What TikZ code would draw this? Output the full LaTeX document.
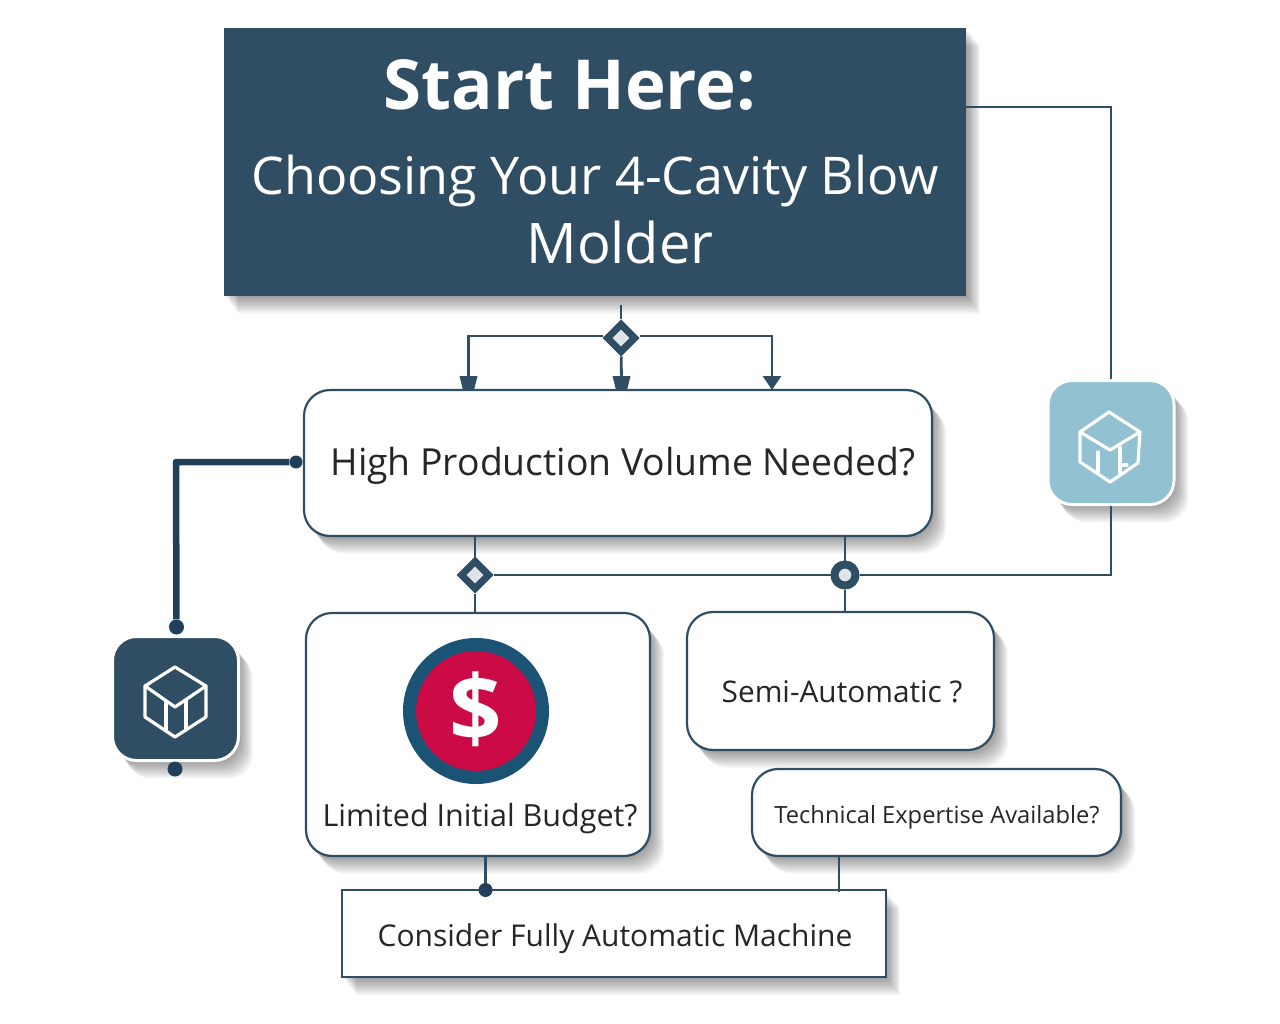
\documentclass[tikz,border=0pt]{standalone}
\usepackage{fontspec}
\setmainfont{Open Sans}
\usetikzlibrary{arrows.meta,shapes.geometric,shadows}
\definecolor{dg}{HTML}{2F4D63}
\definecolor{navy}{HTML}{1F3F5B}
\definecolor{sky}{HTML}{92C1D1}
\definecolor{crimson}{HTML}{CC0A45}
\definecolor{ring}{HTML}{1B5375}
\tikzset{
    shadelayer/.style = {general shadow={fill=black,
                    opacity=0.035,
                    shadow xshift=1.2*#1 pt,
                    shadow yshift=-1.5*#1 pt}},
    softshadow/.style = {shadelayer/.list={1,...,12}},
    flowbox/.style = {rectangle,
                    rounded corners=26pt,
                    fill=white,
                    draw=dg,
                    line width=2.2pt,
                    softshadow},
    plainbox/.style = {flowbox,
                    rounded corners=0pt},
    titlebox/.style = {rectangle,
                    fill=dg,
                    minimum width=742pt,
                    minimum height=268pt,
                    softshadow},
    iconbox/.style = {rectangle,
                    rounded corners=24pt,
                    draw=white,
                    line width=3pt,
                    minimum width=126pt,
                    minimum height=124pt,
                    softshadow},
    label/.style =  {text=black!85,
                    inner sep=0pt},
    junction/.style = {diamond,
                    aspect=1,
                    fill=white!85!dg,
                    draw=dg,
                    line width=7pt,
                    inner sep=0pt,
                    minimum size=30pt},
    ringnode/.style = {circle,
                    fill=white!85!dg,
                    draw=dg,
                    line width=8pt,
                    inner sep=0pt,
                    minimum size=21pt},
    dot/.style =    {circle,
                    fill=navy,
                    inner sep=0pt,
                    minimum size=15pt},
    tiptrap/.pic =  {\fill[dg] (-9,-7) -- (9,-7) -- (5.5,7) -- (-5.5,7) -- cycle;},
    wire/.style =   {draw=dg,
                    line width=2.8pt},
    thickwire/.style = {draw=navy,
                    line width=6.5pt},
    cube/.style =   {draw=white,
                    line width=3.2pt,
                    line join=round,
                    line cap=round},
    >={Triangle[width=18pt,length=14pt]}}
\begin{document}
\begin{tikzpicture}[x=1pt,y=-1pt]
    \useasboundingbox (0,0) rectangle (1280,1024);
    \fill[white] (0,0) rectangle (1280,1024);

    % boxes
    \node[titlebox] (title) at (595,162) {};
    \node[label,text=white,font=\bfseries\fontsize{69}{69}\selectfont] (start) at (570,85) {Start Here:};
    \node[label,text=white,font=\fontsize{52}{52}\selectfont] (choosing) at (595,181) {Choosing Your 4-Cavity Blow};
    \node[label,text=white,font=\fontsize{56}{56}\selectfont] (molder) at (620,243) {Molder};

    \node[flowbox,minimum width=628pt,minimum height=146pt] (high) at (618,463) {};
    \node[label,font=\fontsize{37.3}{37}\selectfont] (hightext) at (623,466) {High Production Volume Needed?};

    \node[flowbox,minimum width=344pt,minimum height=243pt] (budget) at (478,734.5) {};
    \node[label,font=\fontsize{30.5}{30}\selectfont] (budgettext) at (480,819) {Limited Initial Budget?};

    \node[flowbox,minimum width=307pt,minimum height=138pt] (semi) at (840.5,681) {};
    \node[label,font=\fontsize{29.8}{30}\selectfont] (semitext) at (842,692) {Semi-Automatic ?};

    \node[flowbox,minimum width=369pt,minimum height=87pt] (tech) at (936.5,812.5) {};
    \node[label,font=\fontsize{23.7}{24}\selectfont] (techtext) at (937,817) {Technical Expertise Available?};

    \node[plainbox,minimum width=544pt,minimum height=87pt] (fully) at (614,933.5) {};
    \node[label,font=\fontsize{30}{30}\selectfont] (fullytext) at (615,939) {Consider Fully Automatic Machine};

    % dollar badge
    \node[circle,fill=crimson,draw=ring,line width=13pt,minimum size=133pt,inner sep=0pt] (badge) at (476,711) {};
    \node[label,text=white,font=\bfseries\fontsize{92}{92}\selectfont] (dollar) at (476,709) {\$};

    % icons
    \node[iconbox,fill=sky] (lighticon) at (1111,442.5) {};
    \node[iconbox,fill=dg] (darkicon) at (175.5,698.5) {};

    \draw[cube] (1109,412) -- (1140,432) -- (1138,463) -- (1110,482) -- (1080,462) -- (1080,432) -- cycle;
    \draw[cube] (1080,432) -- (1110,450) -- (1140,432);
    \draw[cube] (1098,452) -- (1098,473) (1120,447) -- (1120,473) (1122,465) -- (1127,465);

    \draw[cube] (175,667) -- (206,686) -- (206,717) -- (175,737) -- (145,717) -- (145,686) -- cycle;
    \draw[cube] (145,686) -- (175,707) -- (206,686);
    \draw[cube] (166,701) -- (166,731) (186,700) -- (186,730);

    % junctions
    \node[junction] (topj) at (621,338) {};
    \node[junction] (leftj) at (475,575) {};
    \node[ringnode] (rightj) at (845,575) {};
    \coordinate (stem) at (621,305);
    \coordinate (topbar) at (621,336);

    % tips
    \coordinate (tipa) at (468.5,383);
    \coordinate (tipb) at (621.5,383);
    \coordinate (tipc) at (772,390);
    \pic at (tipa) {tiptrap};
    \pic at (tipb) {tiptrap};

    % dots
    \node[dot,minimum size=13pt] (dothigh) at (296,462) {};
    \node[dot] (dotup) at (176.5,627) {};
    \node[dot] (dotdown) at (175,769) {};
    \node[dot,minimum size=14pt] (dotfully) at (485.5,890) {};

    % connectors
    \draw[wire] (title.east |- 0,107) -- (1111,107) -- (lighticon.north);
    \draw[wire] (lighticon.south) -- (1111,575) -- (rightj);
    \draw[wire] (rightj) -- (leftj);
    \draw[wire] (stem) -- (topj);
    \draw[wire] (topj.west |- topbar) -- (468.5,336) -- (tipa);
    \draw[wire] (topj) -- (tipb);
    \draw[wire,->] (topj.east |- topbar) -- (772,336) -- (tipc);
    \draw[wire] (leftj |- high.south) -- (leftj);
    \draw[wire] (leftj) -- (leftj |- budget.north);
    \draw[wire] (rightj |- high.south) -- (rightj);
    \draw[wire] (rightj) -- (rightj |- semi.north);
    \draw[wire] (dotfully |- budget.south) -- (dotfully);
    \draw[wire] (839,856) -- (839,892);
    \draw[thickwire,line join=round] (dothigh) -- (176,462) -- (dotup);
\end{tikzpicture}
\end{document}
